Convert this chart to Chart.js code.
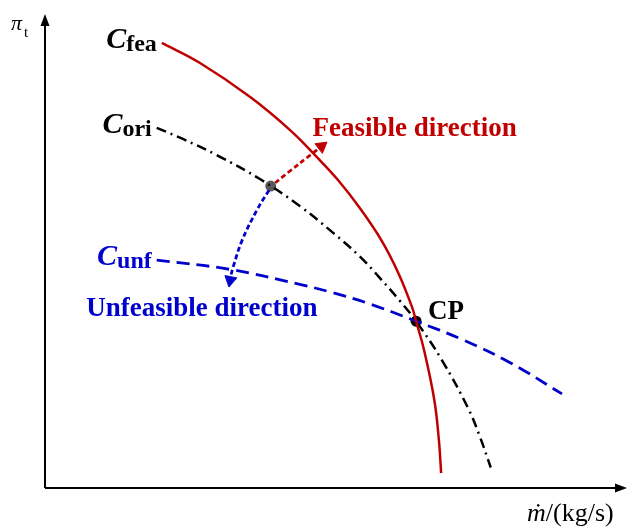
<!DOCTYPE html>
<html>
<head>
<meta charset="utf-8">
<script src="https://cdn.jsdelivr.net/npm/chart.js@4.4.0/dist/chart.umd.min.js"></script>
<style>
  html, body { margin: 0; padding: 0; background: #fff; }
  #wrap { width: 628px; height: 528px; }
</style>
</head>
<body>
<div id="wrap"><canvas id="myChart" width="628" height="528"></canvas></div>
<script>
// Kurva karakteristik (satuan relatif 0..100)
const feaX = [20.5, 27.2, 36.0, 43.0, 47.7, 51.4, 55.1, 59.0, 62.0, 64.4, 65.1, 66.5, 68.3, 69.1, 69.5];
const feaY = [95.5, 91.2, 83.9, 76.8, 71.0, 66.1, 60.3, 53.2, 46.1, 38.8, 35.8, 29.6, 18.9, 10.3, 3.2];

const oriX = [19.6, 24.2, 30.2, 37.7, 44.7, 50.5, 55.3, 58.8, 62.3, 65.1, 69.6, 74.2, 76.3, 78.2];
const oriY = [77.3, 74.9, 71.4, 66.3, 60.5, 54.8, 49.6, 45.0, 40.1, 35.8, 27.5, 17.2, 11.0, 4.4];

const unfX = [19.6, 32.5, 44.7, 50.5, 56.5, 65.1, 73.3, 81.6, 90.7];
const unfY = [48.9, 46.9, 43.7, 41.9, 39.7, 35.8, 31.8, 26.9, 20.2];

// Arah feasible / unfeasible dari titik awal
const feaDirX = [40.4, 44.7, 47.9];
const feaDirY = [65.5, 69.7, 72.7];
const unfDirX = [39.3, 37.2, 34.6, 33.0, 32.6];
const unfDirY = [63.9, 59.7, 53.2, 47.4, 45.5];

// Ujung panah (x, y, rotasi)
const headX = [48.5, 32.5];
const headY = [73.3, 44.6];
const headRot = [52, 191];

const startPt = [39.6, 64.8];  // titik abu-abu pada C_ori
const cpPt = [65.1, 35.8];     // CP

const RED = '#c00000';
const BLUE = '#0000cc';
const SERIF = '"Liberation Serif", "Times New Roman", serif';

function pts(xs, ys) {
  return xs.map((x, i) => ({ x: x, y: ys[i] }));
}

// gambar sumbu dengan panah dan label teks
const annot = {
  id: 'annot',
  beforeDatasetsDraw(chart) {
    const { ctx, chartArea: a } = chart;
    ctx.save();
    ctx.strokeStyle = '#000';
    ctx.fillStyle = '#000';
    ctx.lineWidth = 2;
    ctx.beginPath();
    ctx.moveTo(a.left, a.bottom);
    ctx.lineTo(a.right + 4, a.bottom);
    ctx.moveTo(a.left, a.bottom);
    ctx.lineTo(a.left, a.top - 2);
    ctx.stroke();
    // panah x
    ctx.beginPath();
    ctx.moveTo(a.right + 12, a.bottom);
    ctx.lineTo(a.right, a.bottom - 4.5);
    ctx.lineTo(a.right, a.bottom + 4.5);
    ctx.closePath();
    ctx.fill();
    // panah y
    ctx.beginPath();
    ctx.moveTo(a.left, a.top - 8);
    ctx.lineTo(a.left - 4.5, a.top + 4);
    ctx.lineTo(a.left + 4.5, a.top + 4);
    ctx.closePath();
    ctx.fill();
    ctx.restore();
  },
  afterDatasetsDraw(chart) {
    const { ctx } = chart;
    const sx = chart.scales.x, sy = chart.scales.y;
    const px = v => sx.getPixelForValue(v);
    const py = v => sy.getPixelForValue(v);
    ctx.save();
    ctx.textBaseline = 'alphabetic';

    // label kurva: C miring + subskrip
    function curveLabel(sub, x, y, color) {
      ctx.fillStyle = color;
      ctx.font = 'italic bold 30px ' + SERIF;
      const wC = ctx.measureText('C').width;
      ctx.font = 'bold 24px ' + SERIF;
      const wS = ctx.measureText(sub).width;
      const left = x - 5 - wC - wS;
      ctx.font = 'italic bold 30px ' + SERIF;
      ctx.fillText('C', left, y + 5);
      ctx.font = 'bold 24px ' + SERIF;
      ctx.fillText(sub, left + wC, y + 8);
    }
    curveLabel('fea', px(feaX[0]), py(feaY[0]), '#000');
    curveLabel('ori', px(oriX[0]), py(oriY[0]), '#000');
    curveLabel('unf', px(unfX[0]), py(unfY[0]), BLUE);

    ctx.font = 'bold 27px ' + SERIF;
    ctx.fillStyle = RED;
    ctx.fillText('Feasible direction', px(headX[0]) - 9, py(headY[0]) - 10);
    ctx.fillStyle = BLUE;
    ctx.fillText('Unfeasible direction', px(headX[1]) - 144, py(headY[1]) + 36);
    ctx.fillStyle = '#000';
    ctx.fillText('CP', px(cpPt[0]) + 12, py(cpPt[1]) - 2);

    // label sumbu y
    ctx.font = 'italic 22px ' + SERIF;
    ctx.fillText('\u03c0', 11, 30);
    ctx.font = '15px ' + SERIF;
    ctx.fillText('t', 24, 37);

    // label sumbu x
    ctx.font = 'italic 26px ' + SERIF;
    const xl = 527, yl = 521;
    ctx.fillText('\u1e41', xl, yl);
    const wm = ctx.measureText('\u1e41').width;
    ctx.font = '26px ' + SERIF;
    ctx.fillText('/(kg/s)', xl + wm, yl);
    ctx.restore();
  }
};

var ctx = document.getElementById('myChart').getContext('2d');

var myChart = new Chart(ctx, {
  type: 'line',
  data: {
    datasets: [
      {
        label: 'C_fea',
        data: pts(feaX, feaY),
        borderColor: RED,
        borderWidth: 2.5,
        pointRadius: 0,
        tension: 0.4
      },
      {
        label: 'C_ori',
        data: pts(oriX, oriY),
        borderColor: '#000',
        borderWidth: 2.5,
        borderDash: [10, 5, 2, 5],
        pointRadius: 0,
        tension: 0.4
      },
      {
        label: 'C_unf',
        data: pts(unfX, unfY),
        borderColor: BLUE,
        borderWidth: 2.8,
        borderDash: [13, 7],
        pointRadius: 0,
        tension: 0.4
      },
      {
        label: 'feasible dir',
        data: pts(feaDirX, feaDirY),
        borderColor: RED,
        borderWidth: 2.8,
        borderDash: [5, 3],
        pointRadius: 0,
        tension: 0.3
      },
      {
        label: 'unfeasible dir',
        data: pts(unfDirX, unfDirY),
        borderColor: BLUE,
        borderWidth: 2.8,
        borderDash: [5, 3],
        pointRadius: 0,
        tension: 0.4
      },
      {
        label: 'heads',
        data: pts(headX, headY),
        showLine: false,
        pointStyle: 'triangle',
        pointRadius: 7,
        pointRotation: headRot,
        pointBackgroundColor: [RED, BLUE],
        pointBorderColor: [RED, BLUE],
        pointBorderWidth: 1
      },
      {
        label: 'start',
        data: [{ x: startPt[0], y: startPt[1] }],
        showLine: false,
        pointRadius: 5.5,
        pointBackgroundColor: '#595959',
        pointBorderColor: '#595959',
        pointBorderWidth: 0
      },
      {
        label: 'CP',
        data: [{ x: cpPt[0], y: cpPt[1] }],
        showLine: false,
        pointRadius: 5.5,
        pointBackgroundColor: '#000',
        pointBorderColor: '#000',
        pointBorderWidth: 0
      }
    ]
  },
  options: {
    responsive: false,
    animation: false,
    layout: { padding: { left: 45, right: 13, top: 22, bottom: 40 } },
    plugins: {
      legend: { display: false },
      tooltip: { enabled: false }
    },
    scales: {
      x: { type: 'linear', min: 0, max: 100, display: false },
      y: { type: 'linear', min: 0, max: 100, display: false }
    }
  },
  plugins: [annot]
});
</script>
</body>
</html>
